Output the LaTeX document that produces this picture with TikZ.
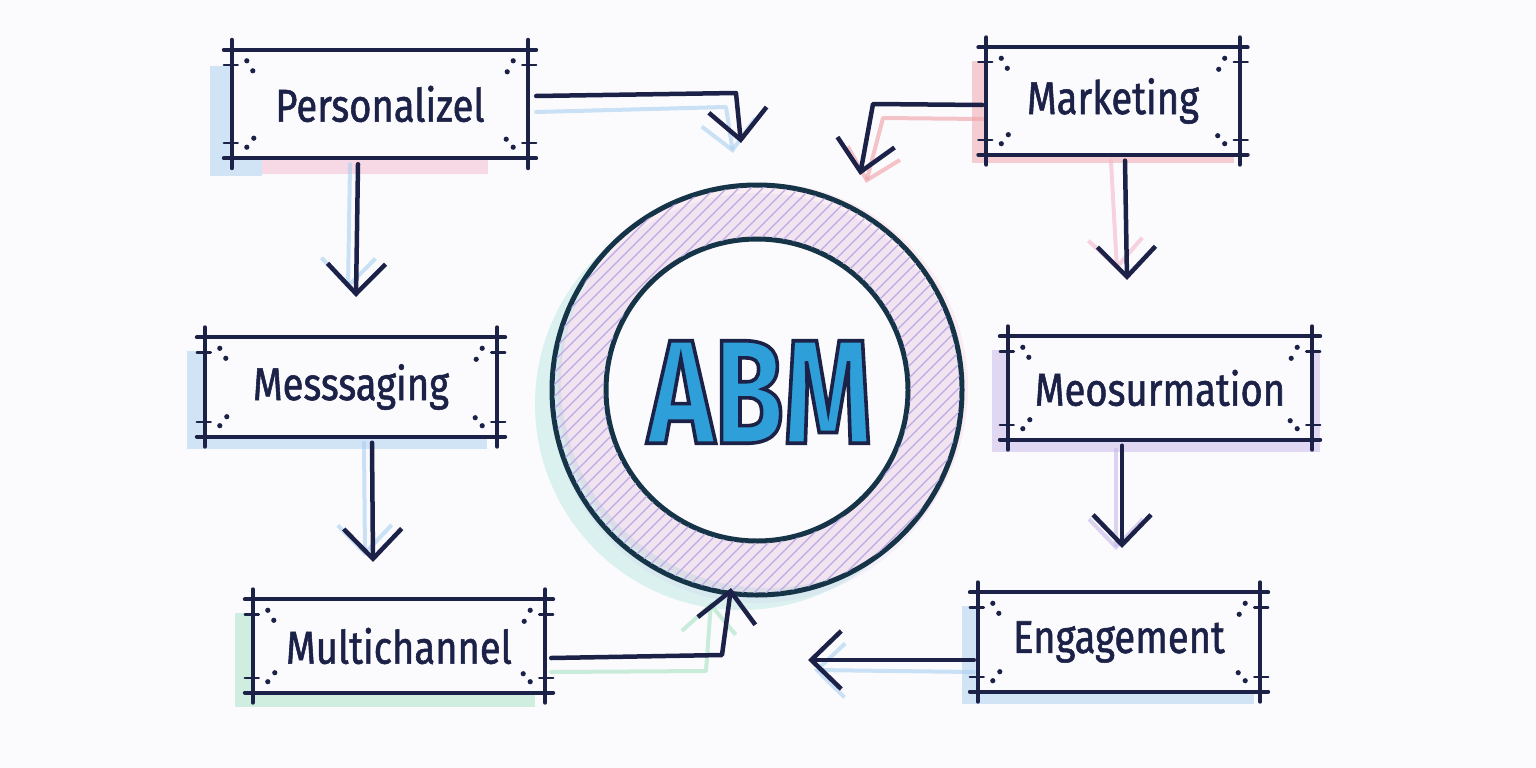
\documentclass[tikz,border=0pt]{standalone}
\usepackage{fontspec}
\newfontfamily\handfont[FakeStretch=0.83,FakeBold=1.2]{Fira Sans}
\newfontfamily\abmfont[FakeStretch=0.76]{Fira Sans}
\usetikzlibrary{arrows.meta,calc,backgrounds}

\definecolor{paper}{HTML}{FBFBFD}
\definecolor{ink}{HTML}{1C2148}
\definecolor{inkteal}{HTML}{163447}
\definecolor{abmblue}{HTML}{2E9FD8}
\definecolor{washblue}{HTML}{A9CFF0}
\definecolor{washpink}{HTML}{F4B8CF}
\definecolor{washred}{HTML}{EE9FA6}
\definecolor{washlilac}{HTML}{C7B6EA}
\definecolor{washgreen}{HTML}{A6E2C2}
\definecolor{washteal}{HTML}{9FE0D6}
\definecolor{hatch}{HTML}{BBAAE4}

% outlined letters: fill in the text colour, stroke in ink
\newcommand{\inkedge}[1]{\special{pdf:literal direct 0.11 0.13 0.28 RG 2 Tr 3.6 w}#1\special{pdf:literal direct 0 Tr}}

\tikzset{
  tag/.style={fill=paper, text=ink, inner sep=0pt,
    font=\handfont\fontsize{46}{52}\selectfont},
  edge/.style={draw=ink, line width=4pt, line cap=round},
  nick/.style={draw=ink, line width=2.4pt, line cap=round},
  flow/.style={draw=ink, line width=4.5pt, line cap=round, line join=round,
    -{Straight Barb[length=30pt,width=58pt]}},
  ghost/.style={draw=#1, line width=4pt, line cap=round, line join=round,
    opacity=0.6, -{Straight Barb[length=28pt,width=54pt]}},
  wash/.style={fill=#1, opacity=0.5},
}

\begin{document}
\begin{tikzpicture}[x=1pt,y=-1pt]

  \path[use as bounding box] (0,0) rectangle (1536,768);

  % 1. the six label boxes
  \node[tag, minimum width=296pt, minimum height=108pt] (pers) at (380,104) {Personalizel};
  \node[tag, minimum width=253pt, minimum height=107pt] (mkt) at (1113,101) {Marketing};
  \node[tag, minimum width=292pt, minimum height=99pt] (msg) at (351,387) {Messsaging};
  \node[tag, minimum width=304pt, minimum height=103pt] (meas) at (1160,388) {Meosurmation};
  \node[tag, minimum width=292pt, minimum height=93pt] (multi) at (399,646) {Multichannel};
  \node[tag, minimum width=282pt, minimum height=99pt] (eng) at (1119,642) {Engagement};

  % 2. sketchy borders, corner nicks and dots
  \foreach \b in {pers,mkt,msg,meas,multi,eng}{
    \draw[edge] ($(\b.north west)+(0,-10)$) -- ($(\b.south west)+(0,10)$);
    \draw[edge] ($(\b.north east)+(0,-10)$) -- ($(\b.south east)+(0,10)$);
    \draw[edge] ($(\b.north west)+(-8,0)$) -- ($(\b.north east)+(8,0)$);
    \draw[edge] ($(\b.south west)+(-8,0)$) -- ($(\b.south east)+(8,0)$);
    \draw[nick] ($(\b.north west)+(-8,15)$) -- ++(14,0);
    \draw[nick] ($(\b.south west)+(-8,-15)$) -- ++(14,0);
    \draw[nick] ($(\b.north east)+(-6,15)$) -- ++(14,0);
    \draw[nick] ($(\b.south east)+(-6,-15)$) -- ++(14,0);
    \fill[ink] ($(\b.north west)+(15,11)$) circle (2.6pt) ($(\b.north west)+(21,21)$) circle (2.6pt);
    \fill[ink] ($(\b.north east)+(-15,11)$) circle (2.6pt) ($(\b.north east)+(-21,22)$) circle (2.6pt);
    \fill[ink] ($(\b.south west)+(15,-11)$) circle (2.6pt) ($(\b.south west)+(22,-20)$) circle (2.6pt);
    \fill[ink] ($(\b.south east)+(-15,-11)$) circle (2.6pt) ($(\b.south east)+(-22,-19)$) circle (2.6pt);
  }

  % 3. the ABM ring
  \node[circle, draw=inkteal, line width=5pt, minimum size=410pt, inner sep=0pt] (ring) at (757,390) {};
  \draw[inkteal, line width=5pt] (ring.center) circle (151pt);
  \begin{scope}[even odd rule]
    \clip (ring.center) circle (203pt) (ring.center) circle (153pt);
    \foreach \k in {-460,-448,...,460}
      \draw[hatch, line width=1.3pt] ($(ring.center)+(\k,0)+(-230,230)$) -- ++(460,-460);
  \end{scope}
  \node[font=\abmfont\bfseries\fontsize{148}{148}\selectfont, text=abmblue] (abm) at (760,392) {\inkedge{ABM}};

  % 4. connectors
  \coordinate (p1) at (736,93);
  \coordinate (p1t) at (741,143);
  \coordinate (p2) at (873,104);
  \coordinate (p2t) at (860,175);
  \coordinate (p3t) at (356,297);
  \coordinate (p4t) at (1127,280);
  \coordinate (p5t) at (373,562);
  \coordinate (p6t) at (1122,548);
  \coordinate (p7) at (722,655);
  \coordinate (p7t) at (731,588);
  \coordinate (p8t) at (808,660);

  \draw[flow] ($(pers.east)+(8,-8)$) -- (p1) -- (p1t);
  \draw[flow] ($(mkt.west)+(-4,4)$) -- (p2) -- (p2t);
  \draw[flow] ($(pers.south)+(-22,6)$) -- (p3t);
  \draw[flow] ($(mkt.south)+(12,6)$) -- (p4t);
  \draw[flow] ($(msg.south)+(21,6)$) -- (p5t);
  \draw[flow] ($(meas.south)+(-38,6)$) -- (p6t);
  \draw[flow] ($(multi.east)+(6,12)$) -- (p7) -- (p7t);
  \draw[flow] ($(eng.west)+(-4,18)$) -- (p8t);

  % 5. watercolour washes behind everything
  \begin{scope}[on background layer]
    \fill[paper] (0,0) rectangle (1536,768);
    % ring washes
    \fill[washteal, opacity=0.35] ($(ring.center)+(-16,14)$) circle (206pt);
    \fill[paper] ($(ring.center)+(10,-8)$) circle (206pt);
    \fill[washpink, opacity=0.22] ($(ring.center)+(6,-2)$) circle (205pt);
    \fill[washlilac, opacity=0.15] ($(ring.center)+(0,8)$) circle (205pt);
    \fill[paper] (ring.center) circle (150pt);
    % box shadows
    \fill[wash=washblue] ($(pers.north west)+(-22,16)$) rectangle ($(pers.south west)+(30,18)$);
    \fill[wash=washpink] ($(pers.south west)+(30,-6)$) rectangle ($(pers.south east)+(-40,16)$);
    \fill[wash=washred] ($(mkt.north west)+(-14,14)$) rectangle ($(mkt.south east)+(-6,8)$);
    \fill[wash=washblue] ($(msg.north west)+(-18,14)$) rectangle ($(msg.south east)+(-10,12)$);
    \fill[wash=washlilac] ($(meas.north west)+(-16,14)$) rectangle ($(meas.south east)+(8,12)$);
    \fill[wash=washgreen] ($(multi.north west)+(-18,14)$) rectangle ($(multi.south east)+(-10,14)$);
    \fill[wash=washblue] ($(eng.north west)+(-16,14)$) rectangle ($(eng.south east)+(-6,12)$);
    % connector shadows
    \draw[ghost=washblue] ($(pers.east)+(8,8)$) -- ($(p1)+(-10,14)$) -- ($(p1t)+(-8,10)$);
    \draw[ghost=washred] ($(mkt.west)+(-4,18)$) -- ($(p2)+(10,14)$) -- ($(p2t)+(6,8)$);
    \draw[ghost=washblue] ($(pers.south)+(-30,6)$) -- ($(p3t)+(-8,-8)$);
    \draw[ghost=washpink] ($(mkt.south)+(-2,6)$) -- ($(p4t)+(-10,-10)$);
    \draw[ghost=washblue] ($(msg.south)+(13,6)$) -- ($(p5t)+(-8,-6)$);
    \draw[ghost=washlilac] ($(meas.south)+(-44,10)$) -- ($(p6t)+(-6,2)$);
    \draw[ghost=washgreen] ($(multi.east)+(6,26)$) -- ($(p7)+(-16,16)$) -- ($(p7t)+(-20,14)$);
    \draw[ghost=washblue] ($(eng.west)+(-4,30)$) -- ($(p8t)+(6,10)$);
  \end{scope}

\end{tikzpicture}
\end{document}
